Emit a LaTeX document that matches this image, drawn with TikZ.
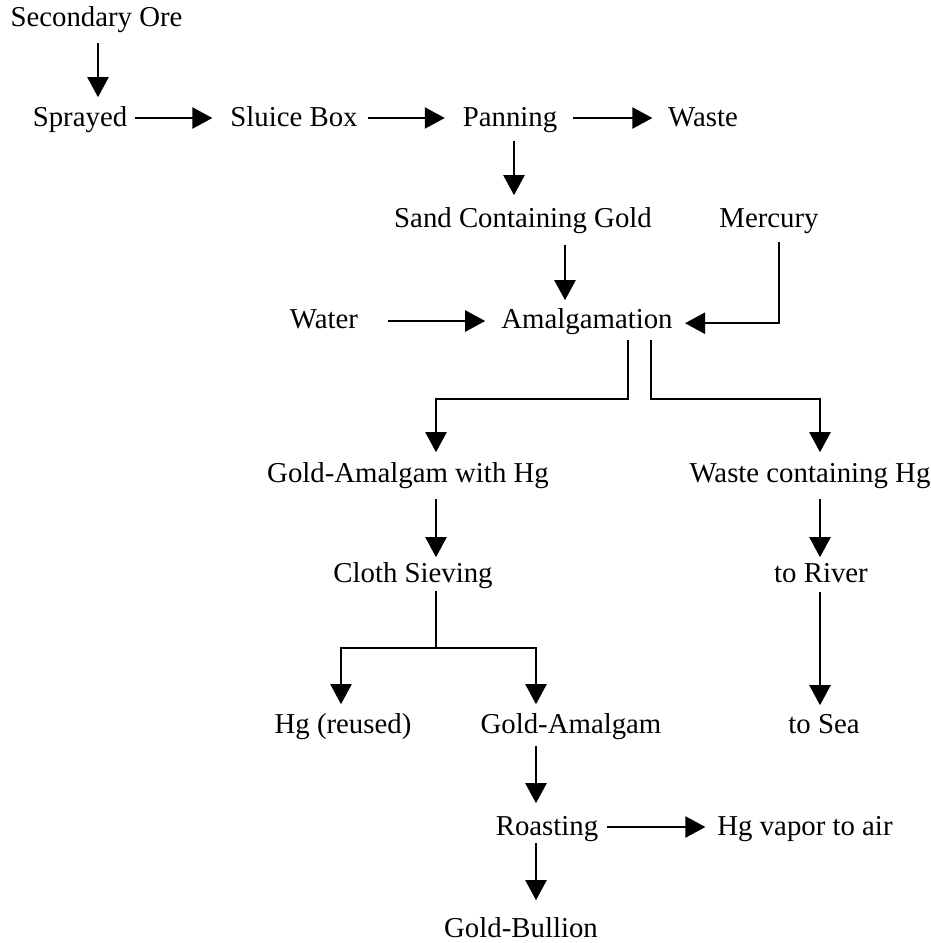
\documentclass[tikz,border=0pt]{standalone}
\usepackage{fontspec}
\setmainfont{Liberation Serif}
\usetikzlibrary{arrows.meta,calc}
\tikzset{
  lbl/.style={anchor=base, inner sep=0pt, text height=20pt, text depth=6pt,
    font=\fontsize{28.8}{34}\selectfont},
  conn/.style={line width=2.2pt, black},
  arr/.style={conn, -{Triangle[width=21pt,length=20pt]}}
}
\begin{document}
\begin{tikzpicture}[x=1pt,y=-1pt]
\useasboundingbox (0,0) rectangle (931,943);
% nodes
\node[lbl] (ore) at (96.5,26) {Secondary Ore};
\node[lbl] (spray) at (80,126) {Sprayed};
\node[lbl] (sluice) at (294,126) {Sluice Box};
\node[lbl] (pan) at (510,126) {Panning};
\node[lbl] (waste) at (703,126) {Waste};
\node[lbl] (sand) at (523,227) {Sand Containing Gold};
\node[lbl] (merc) at (769,227) {Mercury};
\node[lbl] (water) at (324,328) {Water};
\node[lbl] (amal) at (587,328) {Amalgamation};
\node[lbl] (goldhg) at (408,482) {Gold-Amalgam with Hg};
\node[lbl] (wastehg) at (810,482) {Waste containing Hg};
\node[lbl] (cloth) at (413,582) {Cloth Sieving};
\node[lbl] (river) at (821,582) {to River};
\node[lbl] (hgre) at (343,733) {Hg (reused)};
\node[lbl] (goldam) at (571,733) {Gold-Amalgam};
\node[lbl] (sea) at (824,733) {to Sea};
\node[lbl] (roast) at (547,835) {Roasting};
\node[lbl] (vapor) at (805,835) {Hg vapor to air};
\node[lbl] (bullion) at (521,937) {Gold-Bullion};
% connectors
\draw[arr] ($(ore.south)+(1.5,11)$) -- ++(0,54);
\draw[arr] ($(spray.east)+(8,-1)$) -- ++(77,0);
\draw[arr] ($(sluice.east)+(10,-1)$) -- ++(77,0);
\draw[arr] ($(pan.east)+(16,-1)$) -- ++(79,0);
\draw[arr] ($(pan.south)+(4,9)$) -- ++(0,54);
\draw[arr] ($(sand.south)+(42,12)$) -- ++(0,55);
\draw[arr] ($(water.east)+(30,0)$) -- ++(97,0);
\draw[arr] ($(merc.south)+(10,9)$) -- ++(0,81) -- ++(-94,0);
\draw[arr] ($(amal.south)+(41,6)$) -- ++(0,59) -- ++(-192,0) -- ++(0,53);
\draw[arr] ($(amal.south)+(64,6)$) -- ++(0,59) -- ++(169,0) -- ++(0,53);
\draw[arr] ($(goldhg.south)+(28,11)$) -- ++(0,58);
\draw[conn] ($(cloth.south)+(23,3)$) -- ++(0,57) coordinate (split);
\draw[arr] (split) -- ++(-95,0) -- ++(0,56);
\draw[arr] (split) -- ++(100,0) -- ++(0,56);
\draw[arr] ($(goldam.south)+(-35,7)$) -- ++(0,57);
\draw[arr] ($(roast.east)+(9,-1)$) -- ++(98,0);
\draw[arr] ($(roast.south)+(-11,2)$) -- ++(0,57);
\draw[arr] ($(wastehg.south)+(10,11)$) -- ++(0,58);
\draw[arr] ($(river.south)+(-1,4)$) -- ++(0,113);
\end{tikzpicture}
\end{document}
